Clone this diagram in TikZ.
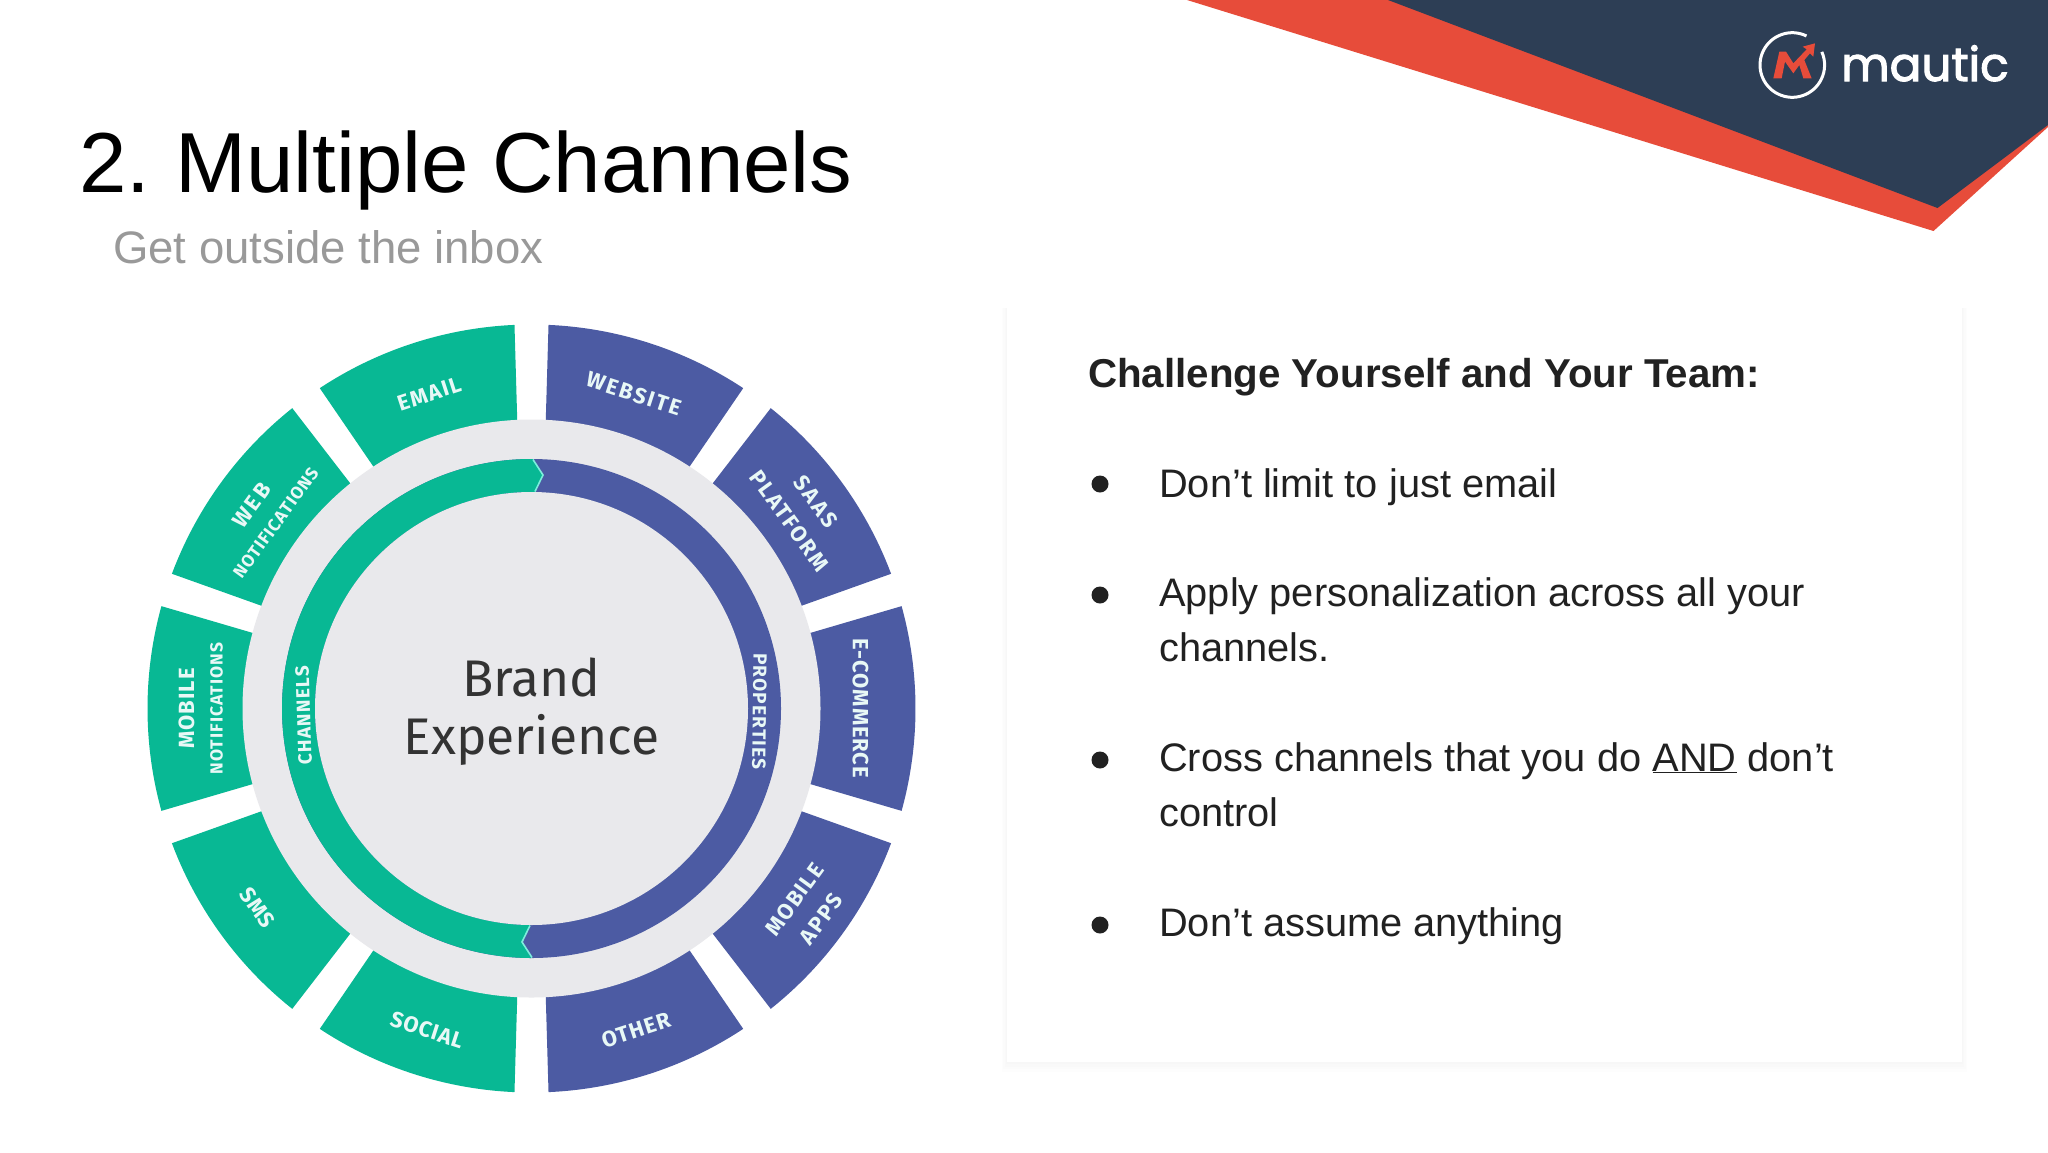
\documentclass[tikz,border=0pt]{standalone}
\usepackage{fontspec}
\setmainfont{Liberation Sans}
\newfontfamily\wheelfont{Fira Sans}
\newfontfamily\logofont{Poppins}[FakeBold=2.2]
\definecolor{teal}{RGB}{8,184,148}
\definecolor{indigo}{RGB}{76,91,163}
\definecolor{wheelgray}{RGB}{233,233,236}
\definecolor{chev}{RGB}{125,238,220}
\definecolor{lbl}{RGB}{232,248,246}
\definecolor{coral}{RGB}{231,76,58}
\definecolor{navy}{RGB}{45,62,85}
\definecolor{bodyink}{RGB}{33,33,33}
\newcommand{\lbfont}[1]{\wheelfont\bfseries\fontsize{#1}{#1}\selectfont}
% dir (1 = reads clockwise, -1 = reads counter-clockwise), name, angle, centre radius, length, letters, font size, text
\newcommand{\seglabel}[8]{%
  \pgfmathsetmacro\rot{#3-#1*90}%
  \node[seglab,rotate=\rot] (#2) at (#3:#4) {\lbfont{#7}\setbox0=\hbox{#8}\edef\natw{\the\wd0}\pgfmathsetmacro\lsp{max(0,(#5-\natw)/#6/#7*100)}\addfontfeature{LetterSpace=\lsp}#8};}
\tikzset{
  body/.style={anchor=base west,inner sep=0pt,text=bodyink,font=\fontsize{39.8}{39.8}\selectfont},
  bulletdot/.style={circle,fill=bodyink,inner sep=0pt,minimum size=17pt},
  seglab/.style={inner sep=0pt,text=lbl,anchor=center},
}
\begin{document}
\begin{tikzpicture}[x=1pt,y=1pt]
\useasboundingbox (0,0) rectangle (2048,-1152);
\fill[white] (0,0) rectangle (2048,-1152);
% header
\fill[coral] (1187,0) -- (2048,0) -- (2048,-127) -- (1933.5,-231) -- cycle;
\fill[navy] (1388,0) -- (2048,0) -- (2048,-125) -- (1937.5,-208) -- cycle;
% logo
\draw[white,line width=3pt] (1792.3,-65) ++(64:32.3) arc[start angle=64,end angle=384,radius=32.3pt];
\begin{scope}[shift={(1700,-10)},x=0.3333pt,y=-0.3333pt]
\fill[coral] (220,205) -- (238,125) -- (258,125) -- (280,160) -- (320,118) -- (308,110) -- (345,100) -- (340,140) -- (330,130) -- (313,150) -- (335,205) -- (310,205) -- (298,165) -- (280,190) -- (255,155) -- (245,205) -- cycle;
\end{scope}
\node[anchor=base west,inner sep=0pt,text=white,font=\logofont\fontsize{47}{47}\selectfont] (logo) at (1841,-81) {mautic};
% titles
\node[anchor=base west,inner sep=0pt,text=black,font=\fontsize{85.2}{85.2}\selectfont] (title) at (79,-192) {2.\hspace{-6.5pt} Multiple Channels};
\node[anchor=base west,inner sep=0pt,text=black!40,font=\fontsize{45.5}{45.5}\selectfont] (subtitle) at (113,-263) {Get outside the inbox};
% card shadow
\foreach \i in {1,...,4}{
  \fill[black,opacity=0.008] (1007-\i*1.2,-308) rectangle (1962+\i*1.2,-1062-\i*2.4);
}
\fill[white] (1007,-305) rectangle (1962,-1062);
% card text
\node[body,font=\bfseries\fontsize{40.3}{40.3}\selectfont] (head) at (1088,-387) {Challenge Yourself and Your Team:};
\node[bulletdot] (b1) at (1100,-484) {};
\node[body] (t1) at (1159,-497) {Don’t limit to just email};
\node[bulletdot] (b2) at (1100,-595) {};
\node[body] (t2) at (1159,-606) {Apply personalization across all your};
\node[body] (t2b) at (1159,-661) {channels.};
\node[bulletdot] (b3) at (1100,-760) {};
\node[body] (t3) at (1159,-771) {Cross channels that you do \underline{AND} don’t};
\node[body] (t3b) at (1159,-826.5) {control};
\node[bulletdot] (b4) at (1100,-925) {};
\node[body] (t4) at (1159,-936) {Don’t assume anything};
% wheel
\begin{scope}[shift={(531.5,-708.5)}]
\foreach \a/\c in {72/indigo,36/indigo,0/indigo,-36/indigo,-72/indigo,-108/teal,-144/teal,180/teal,144/teal,108/teal}{
  \pgfmathsetmacro\ga{\a+18-2.54}
  \pgfmathsetmacro\gb{\a-18+2.54}
  \pgfmathsetmacro\ia{\a+18-2.87}
  \pgfmathsetmacro\ib{\a-18+2.87}
  \fill[\c] (\ga:384) arc[start angle=\ga,end angle=\gb,radius=384pt] -- (\ib:280) arc[start angle=\ib,end angle=\ia,radius=280pt] -- cycle;
}
\fill[wheelgray] (0,0) circle[radius=289pt];
\fill[indigo] (0,0) circle[radius=249.5pt];
\fill[teal] (89.65:249.5) arc[start angle=89.65,end angle=269.88,radius=249.5pt] -- (-9.5,-233.5) -- (-1.5,-217) -- (269.6:216.5) arc[start angle=269.6,end angle=89.08,radius=216.5pt] -- (11.5,233.5) -- cycle;
\fill[wheelgray] (0,0) circle[radius=216.5pt];
\draw[chev,line width=1.6pt] (1.5,249) -- (11.5,233.5) -- (3.5,217);
\draw[chev,line width=1.6pt] (0.5,-249) -- (-9.5,-233.5) -- (-1.5,-217);
% segment labels
\seglabel{1}{email}{108}{331}{67}{5}{22}{EMAIL}
\seglabel{1}{website}{72}{331}{100}{7}{22}{WEBSITE}
\seglabel{1}{saas}{36}{352}{61}{4}{22}{SAAS}
\seglabel{1}{platform}{36}{319}{120}{8}{22}{PLATFORM}
\seglabel{1}{ecommerce}{0}{329}{140}{10}{22}{E-COMMERCE}
\seglabel{-1}{mobileapps}{-36}{325}{85}{6}{22}{MOBILE}
\seglabel{-1}{apps}{-36}{358}{60}{4}{22}{APPS}
\seglabel{-1}{other}{-72}{338}{72}{5}{22}{OTHER}
\seglabel{-1}{social}{-108}{338}{76}{6}{22}{SOCIAL}
\seglabel{-1}{sms}{-144}{339}{44}{3}{22}{SMS}
\seglabel{1}{mobilenote}{180}{345}{82}{6}{22}{MOBILE}
\seglabel{1}{mobilenotif}{180}{315}{133}{13}{17.5}{NOTIFICATIONS}
\seglabel{1}{web}{144}{346}{52}{3}{22}{WEB}
\seglabel{1}{webnotif}{144}{316}{133}{13}{17.5}{NOTIFICATIONS}
\seglabel{1}{channels}{181.8}{228}{100}{8}{19}{CHANNELS}
\seglabel{1}{properties}{-0.7}{228}{117}{10}{19}{PROPERTIES}
\node[anchor=base,inner sep=0pt,text=black!80,font=\wheelfont\fontsize{51.5}{51.5}\selectfont] (brand) at (0,12.5) {Brand};
\node[anchor=base,inner sep=0pt,text=black!80,font=\wheelfont\fontsize{51.5}{51.5}\selectfont] (exp) at (0,-46) {Experience};
\end{scope}
\end{tikzpicture}
\end{document}
